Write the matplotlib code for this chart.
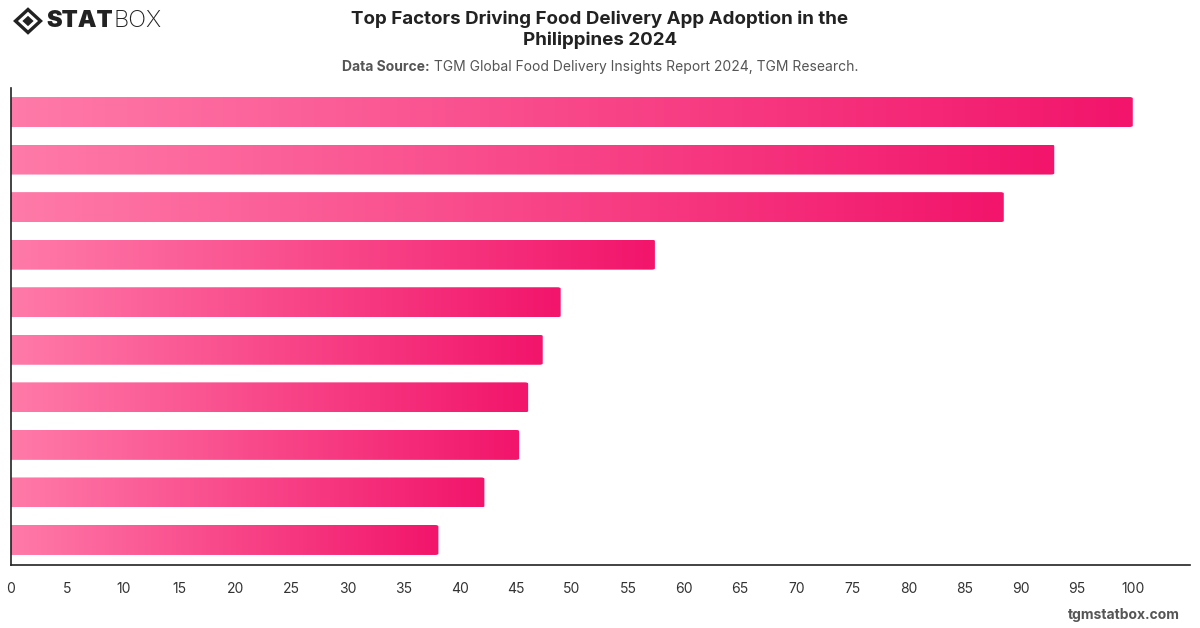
import numpy as np
import matplotlib.pyplot as plt
from matplotlib.patches import FancyBboxPatch, Polygon
from matplotlib.colors import LinearSegmentedColormap

plt.rcParams['font.family'] = ['Inter', 'DejaVu Sans']

# values (top to bottom); no category labels are shown
factors = ['Factor 1', 'Factor 2', 'Factor 3', 'Factor 4', 'Factor 5',
           'Factor 6', 'Factor 7', 'Factor 8', 'Factor 9', 'Factor 10']
values = [100, 93.0, 88.5, 57.4, 49.0, 47.4, 46.1, 45.3, 42.2, 38.1]
ticks = list(range(0, 101, 5))

title = 'Top Factors Driving Food Delivery App Adoption in the\nPhilippines 2024'
source_label = 'Data Source:'
source = ' TGM Global Food Delivery Insights Report 2024, TGM Research.'

fig = plt.figure(figsize=(12, 6.28), dpi=100)
ax = fig.add_axes([11 / 1200, 1 - 565 / 628, 1179 / 1200, 477 / 628])

ypos = np.arange(len(values))
bars = ax.barh(ypos, values, height=0.63, color='none')
ax.set_xlim(0, 105.1)
ax.set_ylim(len(values) - 1 + 0.526, -0.505)

# each bar gets its own left-to-right pink gradient, rounded on the right
cmap = LinearSegmentedColormap.from_list('pinkgrad', ['#ff7aa8', '#f2156b'])
grad = np.linspace(0, 1, 256).reshape(1, -1)
for b in bars:
    x0, y0 = b.get_x(), b.get_y()
    w, h = b.get_width(), b.get_height()
    im = ax.imshow(grad, cmap=cmap, aspect='auto', interpolation='bicubic',
                   extent=(x0, x0 + w, y0 + h, y0), zorder=2)
    clip = FancyBboxPatch((x0 - 2, y0), w + 2, h,
                          boxstyle='round,pad=0,rounding_size=0.3',
                          mutation_aspect=0.09,
                          transform=ax.transData, facecolor='none', edgecolor='none')
    ax.add_patch(clip)
    im.set_clip_path(clip)

ax.set_xticks(ticks)
ax.set_xticklabels([str(t) for t in ticks])
ax.set_yticks([])
ax.tick_params(axis='x', length=0, pad=12, labelsize=10, labelcolor='#333333')
for s in ['top', 'right']:
    ax.spines[s].set_visible(False)
for s in ['left', 'bottom']:
    ax.spines[s].set_color('#222222')
    ax.spines[s].set_linewidth(1.2)

# titles
fig.text(0.5, 1 - 30 / 628, title, ha='center', va='center', fontsize=13.5,
         fontweight='bold', color='#222222', linespacing=1.25)

renderer = fig.canvas.get_renderer()
sy = 1 - 67 / 628
t1 = fig.text(0, sy, source_label, ha='left', va='center', fontsize=10,
              fontweight='bold', color='#555555')
t2 = fig.text(0, sy, source, ha='left', va='center', fontsize=10, color='#555555')
w1 = t1.get_window_extent(renderer).width / 1200
w2 = t2.get_window_extent(renderer).width / 1200
start = 0.5 - (w1 + w2) / 2
t1.set_x(start)
t2.set_x(start + w1)

# logo
lx, ly = 28 / 1200, 1 - 21 / 628
dx, dy = 12.5 / 1200, 11.5 / 628
fig.patches.append(Polygon([[lx - dx, ly], [lx, ly + dy], [lx + dx, ly], [lx, ly - dy]],
                           closed=True, transform=fig.transFigure, facecolor='none',
                           edgecolor='#222222', linewidth=2.4))
fig.patches.append(Polygon([[lx - dx * 0.45, ly], [lx, ly + dy * 0.45], [lx + dx * 0.45, ly],
                            [lx, ly - dy * 0.45]],
                           closed=True, transform=fig.transFigure, facecolor='#222222',
                           edgecolor='none'))
s1 = fig.text(46 / 1200, ly, 'STAT', ha='left', va='center', fontsize=17,
              fontweight='black', color='#222222')
ws = s1.get_window_extent(renderer).width / 1200
fig.text(46 / 1200 + ws + 0.001, ly, 'BOX', ha='left', va='center', fontsize=17,
         fontweight='light', color='#222222')

fig.text(1180 / 1200, 1 - 615 / 628, 'tgmstatbox.com', ha='right', va='center',
         fontsize=10, fontweight='bold', color='#555555')

fig.savefig('out.png', dpi=100)
